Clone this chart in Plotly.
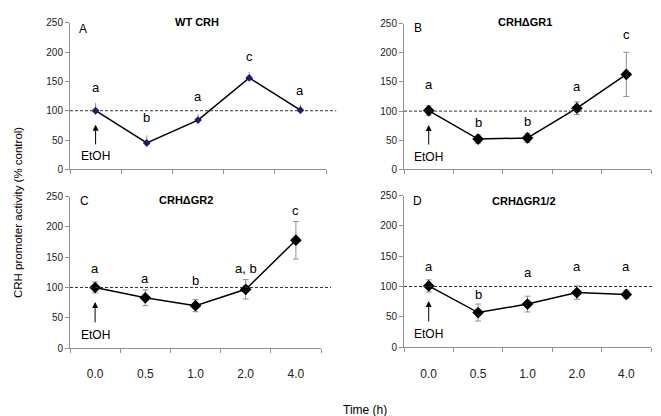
import plotly.graph_objects as go

times = ["0.0", "0.5", "1.0", "2.0", "4.0"]
y_ticks = [0, 50, 100, 150, 200, 250]

wt_vals = [100, 45, 84, 156, 101]
wt_err = [13, 13, 10, 10, 9]
gr1_vals = [101, 52, 54, 105, 163]
gr1_err = [8, 7, 8, 11, 38]
gr2_vals = [100, 83, 70, 97, 178]
gr2_err = [9, 13, 10, 16, 31]
gr12_vals = [101, 57, 71, 90, 87]
gr12_err = [10, 14, 13, 11, 7]

wt_letters = ["a", "b", "a", "c", "a"]
wt_letter_y = [139, 89, 124, 193, 135]
gr1_letters = ["a", "b", "b", "a", "c"]
gr1_letter_y = [146, 81, 83, 143, 232]
gr2_letters = ["a", "a", "b", "a, b", "c"]
gr2_letter_y = [131, 115, 112, 131, 227]
gr12_letters = ["a", "b", "a", "a", "a"]
gr12_letter_y = [133, 87, 123, 133, 133]

panel_titles = ["WT CRH", "CRHΔGR1", "CRHΔGR2", "CRHΔGR1/2"]
panel_tags = ["A", "B", "C", "D"]

W, H = 661, 416
FONT = "Arial, Liberation Sans, sans-serif"

def px_x(p):
    return p / W

def px_y(p):
    return 1 - p / H

# domains (pixel based)
doms = [
    ([62, 318], [9, 160]),
    ([396, 643], [10, 160]),
    ([62, 313], [188, 344]),
    ([396, 643], [187, 343]),
]

fig = go.Figure()

series = [
    (wt_vals, wt_err, wt_letters, wt_letter_y),
    (gr1_vals, gr1_err, gr1_letters, gr1_letter_y),
    (gr2_vals, gr2_err, gr2_letters, gr2_letter_y),
    (gr12_vals, gr12_err, gr12_letters, gr12_letter_y),
]

annotations = []
shapes = []

for i, (vals, err, lets, lety) in enumerate(series):
    xa = "x" if i == 0 else f"x{i+1}"
    ya = "y" if i == 0 else f"y{i+1}"
    if i == 0:
        eb = dict(type="data", array=err, arrayminus=[0] * 5, symmetric=False,
                  color="#8a8a9a", thickness=1, width=0)
        mk = dict(symbol="diamond", size=6, color="#1a1a7a")
    else:
        eb = dict(type="data", array=err, visible=True, color="#909090",
                  thickness=1, width=3)
        mk = dict(symbol="diamond", size=9, color="black")
    fig.add_trace(go.Scatter(
        x=times, y=vals, mode="lines+markers", xaxis=xa, yaxis=ya,
        line=dict(color="black", width=1.5), marker=mk, error_y=eb,
        showlegend=False, cliponaxis=False,
    ))
    xd, yd = doms[i]
    xkey = "xaxis" if i == 0 else f"xaxis{i+1}"
    ykey = "yaxis" if i == 0 else f"yaxis{i+1}"
    fig.update_layout(**{
        xkey: dict(
            domain=[px_x(xd[0]), px_x(xd[1])], anchor=ya, type="category",
            categoryorder="array", categoryarray=times, range=[-0.5, 4.5],
            showline=True, linecolor="#909090", linewidth=1,
            ticks="outside", ticklen=4, tickcolor="#909090", tickson="boundaries",
            showticklabels=(i >= 2), ticklabelstandoff=15,
            tickfont=dict(family=FONT, size=12, color="#222222"),
            showgrid=False, zeroline=False, fixedrange=True,
        ),
        ykey: dict(
            domain=[px_y(yd[1]), px_y(yd[0])], anchor=xa, range=[0, 250],
            tickvals=y_ticks, showline=True, linecolor="#909090", linewidth=1,
            ticks="outside", ticklen=4, tickcolor="#909090",
            tickfont=dict(family=FONT, size=10, color="#222222"),
            showgrid=False, zeroline=False, fixedrange=True,
        ),
    })
    # dashed reference line at 100
    shapes.append(dict(type="line", xref=f"{xa} domain", yref=ya, x0=0, x1=1.04,
                       y0=100, y1=100, line=dict(color="#333333", width=1, dash="3px,2px")))
    # letters (category index positions)
    for j, (l, ly) in enumerate(zip(lets, lety)):
        annotations.append(dict(x=j, y=ly, xref=xa, yref=ya, text=l, showarrow=False,
                                font=dict(family=FONT, size=13, color="black")))
    # EtOH arrow and text
    annotations.append(dict(x=0, y=76, xref=xa, yref=ya, ax=0, ay=40,
                            axref=xa, ayref=ya, text="", showarrow=True,
                            arrowhead=2, arrowsize=1.2, arrowwidth=1, arrowcolor="black"))
    annotations.append(dict(x=0, y=22, xref=xa, yref=ya, text="EtOH",
                            showarrow=False, font=dict(family=FONT, size=12, color="black")))

# titles and tags (pixel positions)
title_pos = [(189, 8), (517, 8), (178, 192), (516, 193)]
tag_pos = [(75, 15), (410, 14), (76, 193), (410, 193)]
for (tx, ty), txt in zip(title_pos, panel_titles):
    annotations.append(dict(x=px_x(tx), y=px_y(ty), xref="paper", yref="paper",
                            text=f"<b>{txt}</b>", showarrow=False, xanchor="center",
                            yanchor="middle", font=dict(family=FONT, size=11, color="black")))
for (tx, ty), txt in zip(tag_pos, panel_tags):
    annotations.append(dict(x=px_x(tx), y=px_y(ty), xref="paper", yref="paper",
                            text=txt, showarrow=False, xanchor="center",
                            yanchor="middle", font=dict(family=FONT, size=12, color="black")))

annotations.append(dict(x=px_x(357), y=px_y(408), xref="paper", yref="paper",
                        text="Time (h)", showarrow=False, xanchor="center", yanchor="middle",
                        font=dict(family=FONT, size=12, color="black")))
annotations.append(dict(x=px_x(10), y=px_y(205), xref="paper", yref="paper",
                        text="CRH promoter activity (% control)", showarrow=False,
                        textangle=-90, xanchor="center", yanchor="middle",
                        font=dict(family=FONT, size=11.5, color="black")))

fig.update_layout(
    width=W, height=H, margin=dict(l=0, r=0, t=0, b=0),
    paper_bgcolor="white", plot_bgcolor="white",
    annotations=annotations, shapes=shapes,
    font=dict(family=FONT),
)

fig.write_html("out.html")
